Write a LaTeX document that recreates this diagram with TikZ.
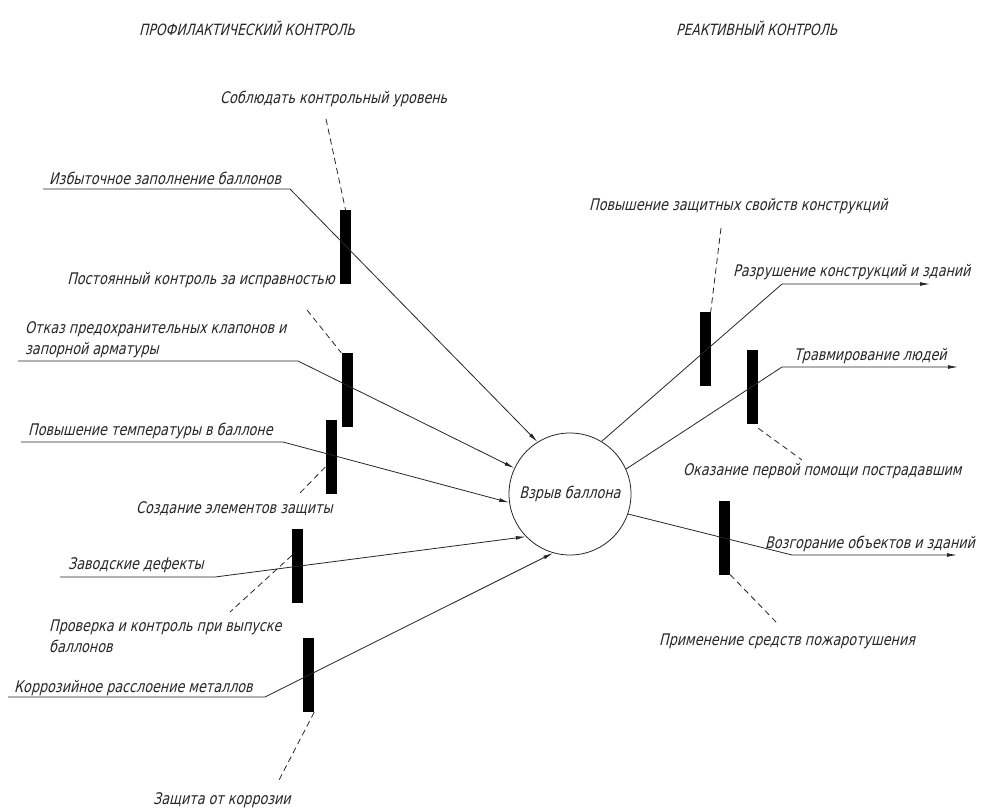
\documentclass[tikz,border=0pt]{standalone}
\usepackage{fontspec}
\newfontfamily\gost{DejaVu Sans Condensed}[FakeSlant=0.24,FakeStretch=0.885]
\usetikzlibrary{arrows.meta}
\begin{document}
\begin{tikzpicture}[x=1pt,y=-1pt,
  txt/.style={font=\gost\fontsize{16}{21}\selectfont, text=black!85, inner sep=0pt, align=left},
  ttl/.style={font=\gost\fontsize{15.5}{18}\selectfont, text=black!85, inner sep=0pt},
  barbox/.style={fill=black, draw=none, minimum width=11pt, minimum height=74pt, inner sep=0pt},
  conn/.style={draw=black!85, line width=0.8pt},
  inarrow/.style={conn, -{Latex[length=10pt,width=3.8pt]}},
  dashline/.style={draw=black!85, line width=0.8pt, dash pattern=on 6pt off 4pt}]
\useasboundingbox[fill=white] (0,0) rectangle (982,809);

% titles
\node[ttl,anchor=west] (title1) at (139,28) {ПРОФИЛАКТИЧЕСКИЙ КОНТРОЛЬ};
\node[ttl,anchor=west] (title2) at (676,28) {РЕАКТИВНЫЙ КОНТРОЛЬ};

% central event
\node[draw=black!85, circle, line width=0.8pt, minimum size=122pt, inner sep=0pt,
      font=\gost\fontsize{16}{20}\selectfont, text=black!85] (c) at (570,494) {Взрыв баллона};

% bars
\node[barbox] (b1) at (345.5,247) {};
\node[barbox] (b2) at (347,390) {};
\node[barbox] (b3) at (331,457) {};
\node[barbox] (b4) at (297.5,565.5) {};
\node[barbox] (b5) at (308.5,675) {};
\node[barbox] (b6) at (705,349) {};
\node[barbox] (b7) at (752.5,387) {};
\node[barbox] (b8) at (724.5,537.5) {};

% left texts
\node[txt,anchor=west] (m1) at (220,99) {Соблюдать контрольный уровень};
\node[txt,anchor=west] (f1) at (49,178) {Избыточное заполнение баллонов};
\node[txt,anchor=east] (m2) at (335,280) {Постоянный контроль за исправностью};
\node[txt,anchor=west] (f2) at (25,339.5) {Отказ предохранительных клапонов и\\запорной арматуры};
\node[txt,anchor=west] (f3) at (28,431) {Повышение температуры в баллоне};
\node[txt,anchor=west] (m3) at (136,509) {Создание элементов защиты};
\node[txt,anchor=west] (f4) at (68,565) {Заводские дефекты};
\node[txt,anchor=west] (m4) at (49,636) {Проверка и контроль при выпуске\\баллонов};
\node[txt,anchor=west] (f5) at (14,688) {Коррозийное расслоение металлов};
\node[txt,anchor=west] (m5) at (153,800) {Защита от коррозии};

% right texts
\node[txt,anchor=west] (m6) at (589,206) {Повышение защитных свойств конструкций};
\node[txt,anchor=west] (r1) at (733,272) {Разрушение конструкций и зданий};
\node[txt,anchor=west] (r2) at (794,356) {Травмирование людей};
\node[txt,anchor=west] (m7) at (683,471) {Оказание первой помощи пострадавшим};
\node[txt,anchor=west] (r3) at (765,544) {Возгорание объектов и зданий};
\node[txt,anchor=west] (m8) at (659,641) {Применение средств пожаротушения};

% left connectors (factor -> explosion)
\coordinate (f1s) at (43,189);  \coordinate (f1k) at (290,189);
\coordinate (f2s) at (18,361);  \coordinate (f2k) at (298,361);
\coordinate (f3s) at (21,442);  \coordinate (f3k) at (283,442);
\coordinate (f4s) at (60,577);  \coordinate (f4k) at (215,577);
\coordinate (f5s) at (8,697);   \coordinate (f5k) at (265,697);
\draw[inarrow] (f1s) -- (f1k) -- (c.122);
\draw[inarrow] (f2s) -- (f2k) -- (c.155);
\draw[inarrow] (f3s) -- (f3k) -- (c.188);
\draw[inarrow] (f4s) -- (f4k) -- (c.224);
\draw[inarrow] (f5s) -- (f5k) -- (c.254);

% right connectors (explosion -> consequences)
\coordinate (r1k) at (782,284); \coordinate (r1e) at (930,284);
\coordinate (r2k) at (782,367); \coordinate (r2e) at (958,367);
\coordinate (r3k) at (792,555); \coordinate (r3e) at (957,555);
\draw[inarrow] (c.59) -- (r1k) -- (r1e);
\draw[inarrow] (c.24) -- (r2k) -- (r2e);
\draw[inarrow] (c.-19) -- (r3k) -- (r3e);

% dashed leaders of the measures
\coordinate (d1) at (326,119);
\coordinate (d2) at (307,310);
\coordinate (d3) at (298,495);
\coordinate (d4) at (230,612);
\coordinate (d5) at (278,782);
\coordinate (d6) at (721,228);
\coordinate (d7) at (802,460);
\coordinate (d8) at (777,623);
\draw[dashline] (d1) -- (b1.north);
\draw[dashline] (d2) -- (b2.north west);
\draw[dashline] ([yshift=-10pt]b3.west) -- (d3);
\draw[dashline] ([yshift=10pt]b4.west) -- (d4);
\draw[dashline] (b5.south east) -- (d5);
\draw[dashline] (d6) -- (b6.north east);
\draw[dashline] ([yshift=-4pt]b7.south east) -- (d7);
\draw[dashline] (b8.south east) -- (d8);
\end{tikzpicture}
\end{document}
